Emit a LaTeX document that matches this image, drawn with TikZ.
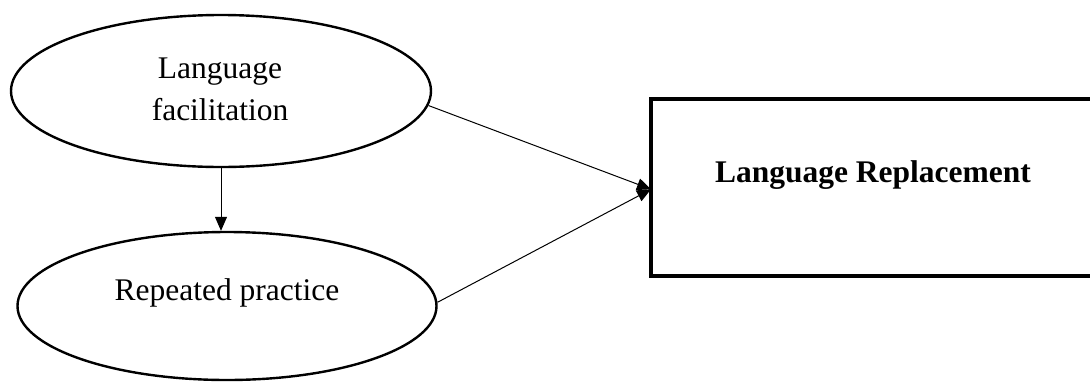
\documentclass[tikz,border=0pt]{standalone}
\usepackage{fontspec}
\setmainfont{Liberation Serif}
\usetikzlibrary{shapes.geometric,arrows.meta,calc}

\begin{document}
\begin{tikzpicture}[x=1pt,y=-1pt,
  bigtext/.style={font=\fontsize{31.5}{42}\selectfont},
  ell/.style={draw=black,line width=2.4pt,ellipse,inner sep=0pt},
  arr/.style={draw=black,line width=1pt,-{Triangle[length=14pt,width=12pt]}},
  outcome/.style={rectangle,inner sep=0pt,outer sep=0pt,anchor=north west},
  frame/.style={draw=black,line width=3.4pt,line join=miter}]
  % page frame
  \fill[white] (0,0) rectangle (1090,381);
  \useasboundingbox (0,0) rectangle (1090,381);

  % left-hand ellipses
  \node[ell,minimum width=420pt,minimum height=152pt] (top) at (221,91) {};
  \node[bigtext,align=center] (toptxt) at (220,89) {Language\\facilitation};
  \node[ell,minimum width=419pt,minimum height=148pt] (bot) at (227,306) {};
  \node[bigtext] (bottxt) at (227,293) {Repeated practice};

  % outcome box, open on the right where it runs off the page
  \node[outcome,minimum width=460pt,minimum height=177pt] (box) at (651,99) {};
  \draw[frame] (box.north east) -- (box.north west) -- (box.south west) -- (box.south east);
  \node[bigtext,font=\fontsize{31.5}{42}\selectfont\bfseries] (boxtxt) at (873,175) {Language Replacement};

  % connectors
  \coordinate (tip) at ($(box.north west)!0.51!(box.south west)$);
  \draw[arr] (top.south) -- (top.south |- bot.north);
  \draw[arr] (top.-4) -- (tip);
  \draw[arr] (bot.1) -- (tip);
\end{tikzpicture}
\end{document}
